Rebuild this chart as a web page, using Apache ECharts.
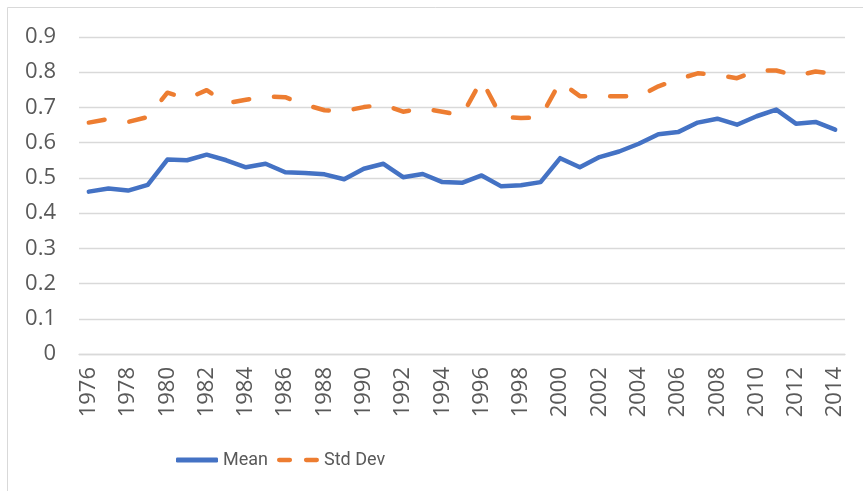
<!DOCTYPE html>
<html>
<head>
<meta charset="utf-8">
<script src="https://cdn.jsdelivr.net/npm/echarts@6/dist/echarts.min.js"></script>
<style>
  html, body { margin: 0; padding: 0; background: #fff; }
  #main { width: 863px; height: 491px; }
</style>
</head>
<body>
<div id="main"></div>
<script>
// years on the x axis
var years = [];
for (var y = 1976; y <= 2014; y++) years.push(String(y));

// Mean
var meanValues = [
  0.461, 0.470, 0.464, 0.480, 0.552, 0.550, 0.566, 0.550, 0.530, 0.540, 0.516, 0.514, 0.510,
  0.496, 0.526, 0.540, 0.502, 0.511, 0.488, 0.486, 0.507, 0.476, 0.479, 0.488, 0.556, 0.530,
  0.559, 0.575, 0.597, 0.624, 0.630, 0.657, 0.668, 0.651, 0.675, 0.694, 0.654, 0.659, 0.637
];

// Std Dev
var stdValues = [
  0.657, 0.667, 0.659, 0.673, 0.742, 0.725, 0.749, 0.712, 0.722, 0.731, 0.729, 0.708, 0.692,
  0.690, 0.701, 0.708, 0.688, 0.697, 0.688, 0.677, 0.778, 0.673, 0.670, 0.672, 0.773, 0.732,
  0.732, 0.732, 0.731, 0.760, 0.780, 0.797, 0.792, 0.783, 0.805, 0.805, 0.790, 0.802, 0.795
];

var textColor = '#595959';
var gridColor = '#d9d9d9';
var labelFont = '"Open Sans", sans-serif';

var myChart = echarts.init(document.getElementById('main'));
var option = {
  animation: false,
  backgroundColor: '#fff',
  // outer chart border (only top / left visible)
  graphic: [{
    type: 'rect',
    shape: { x: 7.5, y: 7.5, width: 900, height: 520 },
    style: { fill: 'none', stroke: gridColor, lineWidth: 1 },
    silent: true,
    z: -10
  }],
  legend: {
    orient: 'horizontal',
    left: 171,
    top: 446,
    itemWidth: 42,
    itemHeight: 5,
    itemGap: 9,
    textStyle: { color: textColor, fontSize: 18, fontFamily: '"Liberation Sans Narrow", "Roboto", sans-serif' },
    data: [
      { name: 'Mean', icon: 'roundRect' },
      { name: 'Std Dev', icon: 'path://M2,0h10a2,2 0 0 1 0,4h-10a2,2 0 0 1 0,-4z M27,0h10a2,2 0 0 1 0,4h-10a2,2 0 0 1 0,-4z' }
    ]
  },
  grid: {
    left: 79,
    right: 18,
    top: 37,
    bottom: 137
  },
  xAxis: {
    type: 'category',
    boundaryGap: true,
    data: years,
    axisLine: { lineStyle: { color: gridColor, width: 1.3 } },
    axisTick: { show: false },
    axisLabel: {
      interval: 1,
      rotate: 90,
      margin: 13,
      color: textColor,
      fontSize: 22,
      fontFamily: labelFont
    }
  },
  yAxis: {
    type: 'value',
    min: 0,
    max: 0.9,
    interval: 0.1,
    axisLine: { show: false },
    axisTick: { show: false },
    splitLine: { lineStyle: { color: gridColor, width: 1.3 } },
    axisLabel: {
      margin: 23,
      color: textColor,
      fontSize: 22,
      fontFamily: labelFont,
      formatter: function (v) { return v === 0 ? '0' : v.toFixed(1); }
    }
  },
  series: [
    {
      name: 'Mean',
      type: 'line',
      data: meanValues,
      symbol: 'none',
      lineStyle: { color: '#4472C4', width: 4.5, cap: 'round', join: 'round' },
      itemStyle: { color: '#4472C4' }
    },
    {
      name: 'Std Dev',
      type: 'line',
      data: stdValues,
      symbol: 'none',
      lineStyle: { color: '#ED7D31', width: 4.5, type: [16, 25], cap: 'round', join: 'round' },
      itemStyle: { color: '#ED7D31' }
    }
  ]
};
myChart.setOption(option);
</script>
</body>
</html>
